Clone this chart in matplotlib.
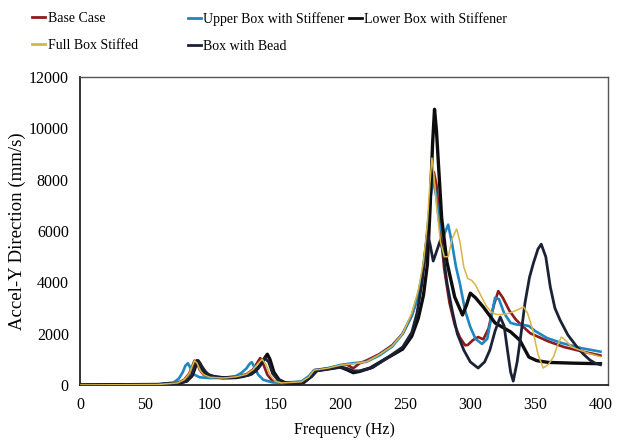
import matplotlib
matplotlib.use('Agg')
import matplotlib.pyplot as plt

plt.rcParams['font.family'] = ['Liberation Serif', 'DejaVu Serif']

# Base Case
f_base = [0, 60, 75, 80, 84, 86, 88, 90, 92, 95, 100, 110, 120, 128, 133, 136, 138.5, 141, 144, 148,
          155, 170, 176, 180, 190, 200, 205, 210, 215, 220, 230, 240, 248, 255, 260, 264, 267, 270,
          272, 274, 277, 280, 284, 288, 292, 296, 298, 302, 306, 310, 314, 318, 321.5, 325, 330, 335,
          340, 346, 360, 372, 385, 400]
v_base = [0, 20, 80, 200, 450, 700, 950, 850, 600, 400, 300, 270, 320, 420, 600, 850, 1050, 800, 400, 150,
          80, 120, 300, 580, 640, 750, 800, 650, 850, 950, 1200, 1550, 2000, 2700, 3500, 4500, 5900, 7600,
          8300, 7800, 6100, 4500, 3200, 2350, 1850, 1550, 1560, 1750, 1870, 1780, 2200, 3100, 3660, 3400, 2900, 2550,
          2300, 2020, 1700, 1480, 1320, 1150]

# Upper Box with Stiffener
f_upper = [0, 60, 72, 76, 79, 81, 83, 85, 88, 92, 100, 110, 120, 124, 128, 130, 132, 134, 137, 141,
           148, 155, 170, 176, 180, 190, 200, 210, 220, 230, 240, 248, 255, 260, 263, 266, 268, 271,
           274, 276, 279, 283, 286, 289, 292, 296, 300, 304, 309, 313, 316, 319, 322, 326, 331, 336,
           341, 345, 350, 359, 370, 385, 400]
v_upper = [0, 20, 100, 250, 500, 750, 850, 650, 400, 300, 270, 280, 350, 470, 650, 800, 890, 700, 400, 200,
           100, 90, 130, 350, 580, 650, 780, 850, 900, 1150, 1500, 2000, 2700, 3500, 4300, 5500, 6600, 8100,
           7300, 6400, 5750, 6250, 5500, 4600, 3950, 2900, 2260, 1800, 1600, 1800, 2600, 3400, 3350, 2800, 2420, 2350,
           2340, 2300, 2100, 1830, 1640, 1440, 1300]

# Lower Box with Stiffener
f_lower = [0, 60, 75, 82, 86, 88, 90, 92, 95, 100, 110, 120, 130, 135, 139, 142, 144, 146, 149, 153,
           158, 165, 172, 178, 182, 190, 200, 205, 210, 215, 223, 236, 248, 255, 260, 264, 267, 269,
           271, 272.5, 274, 276, 278, 282, 288, 294, 297, 300, 304, 310, 319, 331, 338, 345, 351, 360,
           380, 400]
v_lower = [0, 20, 60, 150, 350, 600, 950, 850, 550, 350, 280, 290, 400, 550, 800, 1050, 1200, 1000, 500, 200,
           80, 60, 100, 350, 560, 620, 700, 600, 480, 530, 660, 1050, 1400, 1900, 2600, 3500, 4700, 6800,
           9400, 10750, 9900, 8200, 6500, 4800, 3430, 2730, 3100, 3580, 3400, 3040, 2420, 2070, 1750, 1090, 950, 880,
           850, 830]

# Full Box Stiffed
f_full = [0, 60, 75, 80, 84, 86, 88, 90, 92, 95, 100, 110, 120, 128, 133, 137, 140, 143, 146, 150,
          155, 170, 176, 180, 190, 200, 210, 220, 230, 240, 248, 255, 260, 264, 267, 269, 270.5, 272,
          274, 277, 280, 283, 286, 289.5, 292, 295, 298, 301, 304, 308, 312, 316, 320, 325, 330, 335,
          341, 344, 348, 352, 356, 360, 364, 367, 370, 374, 378, 390, 400]
v_full = [0, 20, 80, 200, 450, 700, 950, 850, 600, 400, 300, 270, 320, 420, 600, 850, 1000, 800, 400, 150,
          80, 120, 320, 580, 650, 770, 830, 900, 1180, 1520, 2000, 2800, 3700, 4800, 6300, 7900, 8850, 8200,
          7000, 5600, 5000, 5000, 5700, 6080, 5600, 4600, 4150, 4080, 3900, 3500, 3100, 2850, 2750, 2750, 2800, 2900,
          3040, 2800, 2150, 1200, 660, 800, 1100, 1550, 1870, 1700, 1480, 1250, 1100]

# Box with Bead
f_bead = [0, 60, 75, 82, 86, 89, 91, 94, 98, 105, 115, 125, 132, 137, 140, 142, 145, 148, 152, 158,
          165, 172, 178, 182, 190, 200, 205, 210, 215, 225, 236, 248, 255, 259, 263, 265, 267, 269,
          271.5, 274, 277, 279, 282, 286, 290, 295, 300, 306, 311, 315, 319, 323, 326, 329, 331, 333,
          336, 339, 342, 345.5, 348.5, 352, 354.5, 358, 361.5, 365, 369, 375, 382, 387, 392, 396, 400]
v_bead = [0, 20, 60, 150, 400, 850, 950, 700, 420, 300, 280, 320, 420, 650, 900, 1050, 900, 450, 200, 80,
          60, 100, 330, 560, 620, 700, 650, 550, 550, 680, 1050, 1480, 2050, 2800, 4000, 5000, 5900, 5500,
          4830, 5200, 5650, 5200, 4000, 2920, 2000, 1360, 900, 660, 900, 1360, 2100, 2650, 2300, 1200, 500, 150,
          900, 2000, 3190, 4200, 4750, 5300, 5490, 5000, 3820, 3000, 2530, 1950, 1480, 1200, 970, 850, 790]

labels = ['Base Case', 'Upper Box with Stiffener', 'Lower Box with Stiffener',
          'Full Box Stiffed', 'Box with Bead']
colors = ['#8e1b1b', '#1f86c1', '#0d0d0d', '#d8b545', '#1b2236']
widths = [1.9, 1.9, 2.4, 1.1, 2.0]

fig = plt.figure(figsize=(6.2, 4.41), dpi=100)
ax = fig.add_axes([0.129, 0.127, 0.852, 0.698])

series = [(f_base, v_base), (f_upper, v_upper), (f_lower, v_lower), (f_full, v_full), (f_bead, v_bead)]
zorders = [3, 3, 4, 5, 4]
lines = []
for (fx, vy), lab, c, w, z in zip(series, labels, colors, widths, zorders):
    ln, = ax.plot(fx, vy, color=c, lw=w, label=lab, zorder=z)
    lines.append(ln)

ax.set_xlim(0, 406)
ax.set_ylim(0, 12000)
ax.set_xticks(range(0, 401, 50))
ax.set_yticks(range(0, 12001, 2000))
ax.tick_params(length=0, labelsize=11.5)
ax.tick_params(axis='x', pad=9)
ax.tick_params(axis='y', pad=8)
for s in ['left', 'bottom']:
    ax.spines[s].set_color('#222222')
    ax.spines[s].set_linewidth(1.3)
for s in ['right', 'top']:
    ax.spines[s].set_color('#555555')
    ax.spines[s].set_linewidth(1.0)

ax.set_xlabel('Frequency (Hz)', fontsize=11.5, labelpad=6)
ax.set_ylabel('Accel-Y Direction (mm/s)', fontsize=13.5, labelpad=2)

leg_kw = dict(frameon=False, fontsize=10, handlelength=0.95, handletextpad=0.15,
              labelspacing=1.0, borderpad=0, borderaxespad=0)
leg1 = fig.legend([lines[0], lines[3]], [labels[0], labels[3]], loc='upper left',
                  bbox_to_anchor=(0.052, 0.972), **leg_kw)
leg2 = fig.legend([lines[1], lines[4], lines[2]], [labels[1], labels[4], labels[2]], loc='upper left',
                  bbox_to_anchor=(0.303, 0.972), ncol=2, columnspacing=0.3, **leg_kw)
for lg in (leg1, leg2):
    for h in lg.legend_handles:
        h.set_linewidth(2.0)

plt.savefig('out.png', dpi=100)
plt.close()
